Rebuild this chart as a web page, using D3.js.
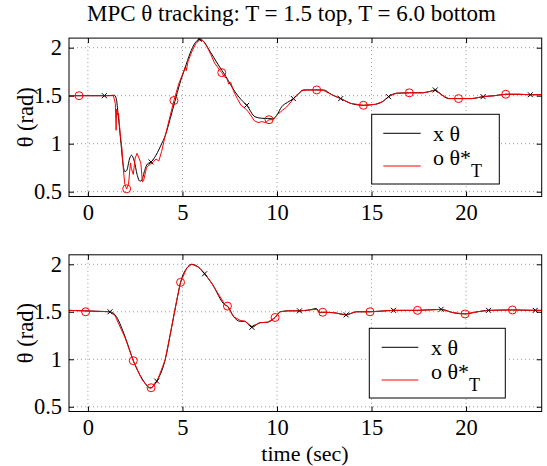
<!DOCTYPE html>
<html>
<head>
<meta charset="utf-8">
<script src="https://cdn.jsdelivr.net/npm/d3@7"></script>
<style>
  body { margin: 0; background: #fff; }
  svg { display: block; font-family: "Liberation Serif", "Times New Roman", serif; }
  .grid line { stroke: #999; stroke-dasharray: 1,3; }
  .tick text { font-family: "Liberation Serif", serif; font-size: 22.5px; fill: #000; }
</style>
</head>
<body>
<svg id="chart" width="547" height="466"></svg>
<script>
// top panel (T = 1.5): measured state theta and reference theta*_T
var topT = [-1, 1.0, 1.4, 1.5, 1.6, 1.75, 1.85, 1.95, 2.05, 2.2, 2.3, 2.45, 2.6, 2.75, 2.85, 3.0, 3.15, 3.34, 3.6, 3.9, 4.1, 4.35, 4.6, 4.85, 5.14, 5.4, 5.67, 5.93, 6.1, 6.4, 6.9, 7.3, 7.78, 8.1, 8.4, 8.84, 9.2, 9.8, 10.0, 10.25, 10.55, 10.87, 11.1, 11.4, 12.0, 12.46, 12.9, 13.37, 13.9, 14.57, 15.2, 15.6, 15.9, 16.3, 17.0, 17.7, 18.1, 18.37, 18.7, 19.07, 19.6, 20.3, 20.9, 21.5, 22.1, 22.8, 23.4, 24.0]
var topTheta = [1.5, 1.5, 1.505, 1.47, 1.30, 1.0, 0.8, 0.71, 0.72, 0.84, 0.88, 0.82, 0.68, 0.61, 0.62, 0.72, 0.79, 0.81, 0.88, 1.0, 1.09, 1.26, 1.44, 1.62, 1.79, 1.94, 2.05, 2.09, 2.07, 1.98, 1.82, 1.70, 1.54, 1.46, 1.40, 1.28, 1.265, 1.26, 1.30, 1.385, 1.43, 1.47, 1.51, 1.56, 1.56, 1.56, 1.51, 1.47, 1.42, 1.40, 1.41, 1.44, 1.49, 1.525, 1.53, 1.53, 1.545, 1.56, 1.51, 1.47, 1.47, 1.47, 1.49, 1.50, 1.515, 1.515, 1.51, 1.51]

var topRefT = [-1, 1.35, 1.45, 1.49, 1.52, 1.56, 1.62, 1.7, 1.8, 1.88, 1.95, 2.05, 2.15, 2.25, 2.3, 2.4, 2.5, 2.6, 2.7, 2.8, 2.88, 2.95, 3.1, 3.25, 3.4, 3.6, 3.75, 3.9, 4.05, 4.3, 4.55, 4.8, 5.0, 5.15, 5.2, 5.3, 5.5, 5.7, 5.9, 6.1, 6.3, 6.5, 6.7, 6.85, 7.0, 7.08, 7.2, 7.35, 7.45, 7.55, 7.7, 7.9, 8.1, 8.3, 8.45, 8.6, 8.8, 9.0, 9.2, 9.4, 9.58, 9.8, 10.0, 10.3, 10.5, 10.8, 11.0, 11.3, 11.6, 12.1, 12.46, 12.9, 13.37, 13.9, 14.57, 15.2, 15.6, 15.9, 16.3, 17.0, 17.7, 18.1, 18.37, 18.7, 19.07, 19.6, 20.3, 20.9, 21.5, 22.1, 22.8, 23.4, 24.0]
var topRefTheta = [1.5, 1.5, 1.42, 1.14, 1.36, 1.30, 1.32, 1.12, 0.95, 0.72, 0.58, 0.53, 0.58, 0.80, 0.74, 0.68, 0.85, 0.90, 0.85, 0.80, 0.60, 0.62, 0.75, 0.78, 0.80, 0.84, 0.82, 0.92, 1.05, 1.25, 1.45, 1.62, 1.72, 1.80, 1.76, 1.86, 1.96, 2.04, 2.08, 2.07, 2.01, 1.93, 1.84, 1.80, 1.76, 1.74, 1.70, 1.68, 1.62, 1.64, 1.55, 1.47, 1.40, 1.37, 1.34, 1.30, 1.24, 1.22, 1.23, 1.22, 1.25, 1.25, 1.30, 1.35, 1.38, 1.45, 1.50, 1.55, 1.56, 1.56, 1.555, 1.51, 1.47, 1.42, 1.40, 1.41, 1.44, 1.49, 1.525, 1.53, 1.53, 1.545, 1.555, 1.51, 1.47, 1.47, 1.47, 1.49, 1.50, 1.515, 1.515, 1.51, 1.51]

var topCrossT = [0.87, 3.34, 5.9, 8.4, 10.87, 13.37, 15.9, 18.37, 20.9, 23.4]
var topCrossTheta = [1.5, 0.81, 2.09, 1.40, 1.47, 1.47, 1.49, 1.56, 1.49, 1.51]
var topCircleT = [-0.47, 2.05, 4.55, 7.08, 9.58, 12.1, 14.57, 17.0, 19.6, 22.1]
var topCircleTheta = [1.5, 0.53, 1.45, 1.74, 1.25, 1.56, 1.40, 1.53, 1.47, 1.515]

// bottom panel (T = 6.0)
var botT = [-1, 0.5, 1.17, 1.43, 1.96, 2.4, 2.85, 3.2, 3.34, 3.64, 4.08, 4.43, 4.7, 4.9, 5.23, 5.49, 5.85, 6.17, 6.55, 7.26, 7.38, 7.7, 8.05, 8.3, 8.67, 9.1, 9.5, 9.9, 10.16, 10.6, 11.19, 11.75, 12.07, 12.28, 12.42, 13.0, 13.66, 14.2, 14.92, 16.16, 17.43, 18.68, 19.33, 19.95, 20.6, 21.19, 22.45, 23.66, 24.0]
var botTheta = [1.515, 1.505, 1.50, 1.47, 1.24, 0.985, 0.80, 0.71, 0.70, 0.77, 0.99, 1.34, 1.62, 1.81, 1.96, 2.0, 1.97, 1.90, 1.80, 1.57, 1.56, 1.45, 1.40, 1.40, 1.337, 1.385, 1.39, 1.44, 1.50, 1.51, 1.51, 1.52, 1.535, 1.49, 1.495, 1.49, 1.467, 1.50, 1.50, 1.515, 1.515, 1.526, 1.49, 1.477, 1.50, 1.515, 1.519, 1.515, 1.515]
var botRefTheta = [1.515, 1.505, 1.50, 1.46, 1.23, 0.985, 0.79, 0.70, 0.695, 0.76, 0.99, 1.34, 1.62, 1.81, 1.96, 2.0, 1.97, 1.905, 1.80, 1.57, 1.56, 1.45, 1.41, 1.40, 1.345, 1.385, 1.39, 1.44, 1.50, 1.51, 1.51, 1.52, 1.525, 1.495, 1.495, 1.49, 1.47, 1.50, 1.50, 1.515, 1.515, 1.524, 1.49, 1.478, 1.50, 1.515, 1.519, 1.515, 1.515]

var botCrossT = [1.17, 3.64, 6.17, 8.67, 11.19, 13.66, 16.16, 18.68, 21.19, 23.66]
var botCrossTheta = [1.5, 0.77, 1.9, 1.337, 1.51, 1.467, 1.515, 1.526, 1.515, 1.515]
var botCircleT = [-0.12, 2.4, 3.34, 4.9, 7.38, 9.9, 12.42, 14.92, 17.43, 19.95, 22.45]
var botCircleTheta = [1.5, 0.985, 0.70, 1.81, 1.56, 1.44, 1.495, 1.50, 1.515, 1.477, 1.519]

var xTicks = [0, 5, 10, 15, 20]
var yTicks = [0.5, 1, 1.5, 2]

var svg = d3.select("#chart")
var left = 69, right = 541.7

svg.append("text")
    .attr("x", 291.5).attr("y", 20.5)
    .attr("text-anchor", "middle")
    .attr("font-size", 23)
    .text("MPC \u03b8 tracking: T = 1.5 top, T = 6.0 bottom")

function panel(top, bottom, t, theta, refT, refTheta, crossT, crossTheta, circT, circTheta, leg, showXLabel) {
    var x = d3.scaleLinear().domain([-1, 24]).range([left, right])
    var y = d3.scaleLinear().domain([0.45, 2.1]).range([bottom, top])
    var g = svg.append("g")

    // dotted grid
    var grid = g.append("g").attr("class", "grid")
    grid.selectAll(".gx").data(xTicks).enter().append("line")
        .attr("x1", d => x(d)).attr("x2", d => x(d))
        .attr("y1", top).attr("y2", bottom)
    grid.selectAll(".gy").data(yTicks).enter().append("line")
        .attr("x1", left).attr("x2", right)
        .attr("y1", d => y(d)).attr("y2", d => y(d))

    // axes, ticks pointing inward
    g.append("g").attr("transform", "translate(0," + bottom + ")")
        .call(d3.axisBottom(x).tickValues(xTicks).tickSizeInner(-5).tickSizeOuter(0).tickPadding(8).tickFormat(d3.format("d")))
        .call(a => a.select(".domain").remove())
    g.append("g").attr("transform", "translate(0," + top + ")")
        .call(d3.axisTop(x).tickValues(xTicks).tickSizeInner(-5).tickSizeOuter(0).tickFormat(""))
        .call(a => a.select(".domain").remove())
    g.append("g").attr("transform", "translate(" + left + ",0)")
        .call(d3.axisLeft(y).tickValues(yTicks).tickSizeInner(-5).tickSizeOuter(0).tickPadding(7).tickFormat(d3.format("")))
        .call(a => a.select(".domain").remove())
    g.append("g").attr("transform", "translate(" + right + ",0)")
        .call(d3.axisRight(y).tickValues(yTicks).tickSizeInner(-5).tickSizeOuter(0).tickFormat(""))
        .call(a => a.select(".domain").remove())

    var clipId = "clip" + Math.round(top)
    g.append("clipPath").attr("id", clipId).append("rect")
        .attr("x", left).attr("y", top).attr("width", right - left).attr("height", bottom - top)
    var plot = g.append("g").attr("clip-path", "url(#" + clipId + ")")

    var line = d3.line().x(d => x(d[0])).y(d => y(d[1]))

    plot.append("path").datum(t.map((v, i) => [v, theta[i]]))
        .attr("d", line.curve(d3.curveMonotoneX))
        .attr("fill", "none").attr("stroke", "#000").attr("stroke-width", 1)
    plot.append("path").datum(refT.map((v, i) => [v, refTheta[i]]))
        .attr("d", line.curve(d3.curveLinear))
        .attr("fill", "none").attr("stroke", "#f00").attr("stroke-width", 1)

    plot.selectAll(".circ").data(circT.map((v, i) => [v, circTheta[i]])).enter().append("circle")
        .attr("cx", d => x(d[0])).attr("cy", d => y(d[1])).attr("r", 4)
        .attr("fill", "none").attr("stroke", "#f00").attr("stroke-width", 1)
    plot.selectAll(".cross").data(crossT.map((v, i) => [v, crossTheta[i]])).enter().append("path")
        .attr("d", d => {
            var cx = x(d[0]), cy = y(d[1]), s = 2.5
            return "M" + (cx - s) + "," + (cy - s) + "L" + (cx + s) + "," + (cy + s) +
                "M" + (cx - s) + "," + (cy + s) + "L" + (cx + s) + "," + (cy - s)
        })
        .attr("stroke", "#000").attr("stroke-width", 1)

    // frame
    g.append("rect").attr("x", left).attr("y", top).attr("width", right - left).attr("height", bottom - top)
        .attr("fill", "none").attr("stroke", "#000").attr("stroke-width", 1)

    // y label
    g.append("text")
        .attr("transform", "translate(33," + ((top + bottom) / 2) + ") rotate(-90)")
        .attr("text-anchor", "middle").attr("font-size", 22.5)
        .text("\u03b8 (rad)")

    if (showXLabel) {
        g.append("text").attr("x", 305).attr("y", 460.5)
            .attr("text-anchor", "middle").attr("font-size", 22)
            .text("time (sec)")
    }

    // legend
    var lg = g.append("g")
    lg.append("rect").attr("x", leg.x0).attr("y", leg.y0).attr("width", leg.x1 - leg.x0).attr("height", leg.y1 - leg.y0)
        .attr("fill", "#fff").attr("stroke", "#000").attr("stroke-width", 1)
    lg.append("line").attr("x1", leg.lx0).attr("x2", leg.lx1).attr("y1", leg.ly0).attr("y2", leg.ly0)
        .attr("stroke", "#000")
    lg.append("line").attr("x1", leg.lx0).attr("x2", leg.lx1).attr("y1", leg.ly1).attr("y2", leg.ly1)
        .attr("stroke", "#f00")
    lg.append("text").attr("x", leg.tx).attr("y", leg.ly0 + 8).attr("font-size", 22).text("x \u03b8")
    var t2 = lg.append("text").attr("x", leg.tx).attr("y", leg.ly1 - 1).attr("font-size", 22)
    t2.append("tspan").text("o \u03b8*")
    t2.append("tspan").attr("dy", 12).attr("font-size", 18).text("T")
}

panel(38.1, 196.5, topT, topTheta, topRefT, topRefTheta, topCrossT, topCrossTheta, topCircleT, topCircleTheta,
    { x0: 371.7, x1: 499.3, y0: 114.3, y1: 184, lx0: 383.3, lx1: 420.7, ly0: 133.3, ly1: 166, tx: 433 }, false)
panel(254.8, 411.5, botT, botTheta, botT, botRefTheta, botCrossT, botCrossTheta, botCircleT, botCircleTheta,
    { x0: 369.3, x1: 505.3, y0: 328.3, y1: 398, lx0: 381.7, lx1: 418.3, ly0: 347.3, ly1: 380, tx: 431 }, true)
</script>
</body>
</html>
